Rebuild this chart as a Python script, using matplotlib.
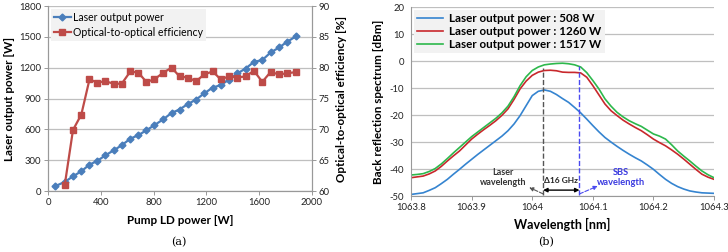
import matplotlib
matplotlib.use("Agg")
import matplotlib.pyplot as plt

# ---- panel (a) data ----
pump_power = [50, 126, 189, 252, 314, 372, 435, 498, 558, 624, 684, 745, 805, 873, 936,
              996, 1057, 1122, 1182, 1248, 1308, 1371, 1434, 1497, 1560, 1623, 1686,
              1751, 1811, 1882]
output_power = [45, 88, 143, 192, 257, 292, 348, 396, 445, 510, 543, 591, 640, 698, 760,
                793, 845, 890, 949, 1007, 1030, 1085, 1144, 1192, 1257, 1274, 1348,
                1397, 1452, 1508]
eff_pump = pump_power[1:]
efficiency = [60.9, 69.9, 72.4, 78.1, 77.6, 77.8, 77.4, 77.4, 79.4, 79.2, 77.7, 78.1,
              79.2, 80.0, 78.6, 78.4, 77.8, 78.9, 79.4, 78.1, 78.6, 78.4, 78.6, 79.5,
              77.7, 79.3, 78.9, 79.1, 79.3]

# ---- panel (b) data ----
wavelength = [1063.80, 1063.81, 1063.82, 1063.83, 1063.84, 1063.85, 1063.86, 1063.87,
              1063.88, 1063.89, 1063.90, 1063.91, 1063.92, 1063.93, 1063.94, 1063.95,
              1063.96, 1063.97, 1063.98, 1063.99, 1064.00, 1064.01, 1064.02, 1064.03,
              1064.04, 1064.05, 1064.06, 1064.07, 1064.08, 1064.09, 1064.10, 1064.11,
              1064.12, 1064.13, 1064.14, 1064.15, 1064.16, 1064.17, 1064.18, 1064.19,
              1064.20, 1064.21, 1064.22, 1064.23, 1064.24, 1064.25, 1064.26, 1064.27,
              1064.28, 1064.29, 1064.30]
spec_508 = [-49.4, -49.1, -48.8, -47.9, -46.9, -45.4, -43.8, -41.9, -40.1, -38.2, -36.4,
            -34.6, -32.9, -31.2, -29.5, -27.8, -25.8, -23.3, -20.2, -16.5, -12.8, -11.2,
            -10.7, -11.2, -12.4, -13.9, -15.3, -17.2, -19.2, -21.5, -23.9, -26.2, -28.3,
            -30.0, -31.6, -33.1, -34.5, -35.8, -37.0, -38.5, -40.1, -42.0, -43.8, -45.3,
            -46.5, -47.4, -48.1, -48.5, -48.8, -48.9, -49.0]
spec_1260 = [-43.2, -42.9, -42.6, -41.8, -40.7, -39.0, -37.0, -35.1, -33.3, -31.1, -28.9,
             -27.1, -25.4, -23.8, -22.1, -20.1, -17.7, -14.2, -10.3, -7.4, -5.3, -4.1,
             -3.5, -3.4, -3.6, -4.1, -4.2, -4.2, -4.4, -6.0, -9.1, -12.5, -15.9, -18.4,
             -20.2, -21.9, -23.3, -24.6, -25.8, -27.3, -28.9, -30.2, -31.4, -32.9, -34.5,
             -36.3, -38.2, -40.1, -41.9, -43.0, -43.8]
spec_1517 = [-42.2, -42.0, -41.7, -40.9, -39.8, -38.1, -36.1, -34.0, -32.0, -30.0, -28.0,
             -26.3, -24.6, -22.9, -21.2, -19.2, -16.7, -13.2, -9.1, -5.8, -3.5, -2.2,
             -1.4, -1.1, -0.9, -0.8, -1.0, -1.4, -2.2, -4.3, -7.2, -10.3, -14.0, -16.7,
             -19.0, -20.7, -22.1, -23.2, -24.2, -25.6, -27.0, -27.8, -28.9, -31.0, -33.3,
             -35.2, -37.0, -38.9, -40.7, -42.1, -43.2]
laser_wl = 1064.018
sbs_wl = 1064.078

plt.rcParams['font.family'] = ['Lato', 'DejaVu Sans']
plt.rcParams['axes.unicode_minus'] = False
fig = plt.figure(figsize=(7.28, 2.52), dpi=100)
tick_fs = 6.8
lab_fs = 8.4
grid_c = '#bfbfbf'
spine_c = '#999999'

# ---------------- (a) ----------------
ax = fig.add_axes([0.066, 0.242, 0.3626, 0.734])
ax2 = ax.twinx()
l1, = ax.plot(pump_power, output_power, color='#4a7ebb', marker='D', markersize=3.5,
              linewidth=1.6, label='Laser output power', zorder=3)
l2, = ax2.plot(eff_pump, efficiency, color='#be4b48', marker='s', markersize=5,
               linewidth=1.6, label='Optical-to-optical efficiency', zorder=3)
ax.set_xlim(0, 2000)
ax.set_ylim(0, 1800)
ax2.set_ylim(60, 90)
ax.set_xticks([0, 400, 800, 1200, 1600, 2000])
ax.set_yticks([0, 300, 600, 900, 1200, 1500, 1800])
ax2.set_yticks([60, 65, 70, 75, 80, 85, 90])
ax.yaxis.grid(True, color=grid_c, linewidth=0.9)
ax.set_axisbelow(True)
for a in (ax, ax2):
    for s in a.spines.values():
        s.set_color(spine_c)
        s.set_linewidth(0.8)
    a.spines['top'].set_visible(False)
    a.tick_params(labelsize=tick_fs, length=3, width=0.7, color=spine_c, pad=2,
                  labelcolor='#222222')
ax.set_xlabel('Pump LD power [W]', fontsize=lab_fs, fontweight='bold', labelpad=6)
ax.set_ylabel('Laser output power [W]', fontsize=lab_fs, fontweight='bold', labelpad=3)
ax2.set_ylabel('Optical-to-optical efficiency [%]', fontsize=lab_fs, fontweight='bold',
               labelpad=4)
leg = ax.legend(handles=[l1, l2], loc='upper left', fontsize=7.6, frameon=True,
                fancybox=False, borderpad=0.3, labelspacing=0.35, handlelength=1.6,
                handletextpad=0.2, borderaxespad=0.25)
leg.get_frame().set_facecolor('#f2f2f2')
leg.get_frame().set_edgecolor('none')
leg.get_frame().set_alpha(1)
leg.set_zorder(5)
fig.text(0.245, 0.025, '(a)', fontsize=8, family='DejaVu Serif', ha='center')

# ---------------- (b) ----------------
bx = fig.add_axes([0.5646, 0.222, 0.4162, 0.75])
bx.plot(wavelength, spec_508, color='#3584d0', linewidth=1.2, label='Laser output power : 508 W')
bx.plot(wavelength, spec_1260, color='#c8282c', linewidth=1.2, label='Laser output power : 1260 W')
bx.plot(wavelength, spec_1517, color='#2db84c', linewidth=1.2, label='Laser output power : 1517 W')
bx.set_xlim(1063.8, 1064.3)
bx.set_ylim(-50, 20)
bx.set_xticks([1063.8, 1063.9, 1064.0, 1064.1, 1064.2, 1064.3])
bx.set_xticklabels(['1063.8', '1063.9', '1064', '1064.1', '1064.2', '1064.3'])
bx.set_yticks([-50, -40, -30, -20, -10, 0, 10, 20])
bx.yaxis.grid(True, color=grid_c, linewidth=0.9)
bx.set_axisbelow(True)
for k, s in bx.spines.items():
    s.set_color(spine_c)
    s.set_linewidth(0.8)
bx.spines['top'].set_visible(False)
bx.spines['right'].set_visible(False)
bx.tick_params(axis='x', labelsize=tick_fs, length=3, width=0.7, color=spine_c, pad=2,
               labelcolor='#222222')
bx.tick_params(axis='y', labelsize=tick_fs, length=0, pad=5, labelcolor='#222222')
bx.set_xlabel('Wavelength [nm]', fontsize=lab_fs + 0.6, fontweight='bold', labelpad=4)
bx.set_ylabel('Back reflection spectrum [dBm]', fontsize=lab_fs, fontweight='bold', labelpad=4)
leg2 = bx.legend(loc='upper left', frameon=True, fancybox=False,
                 borderpad=0.3, labelspacing=0.15, handlelength=2.2, handletextpad=0.5,
                 borderaxespad=0.25, prop={'weight': 'bold', 'size': 8.4})
leg2.get_frame().set_facecolor('#f2f2f2')
leg2.get_frame().set_edgecolor('none')
leg2.get_frame().set_alpha(1)

bx.plot([laser_wl, laser_wl], [-49.6, -2.6], color='#555555', linestyle='--', linewidth=1.0)
bx.plot([sbs_wl, sbs_wl], [-49.6, -1.8], color='#4a4af0', linestyle='--', linewidth=1.0)
bx.annotate('', xy=(sbs_wl, -47.8), xytext=(laser_wl, -47.8),
            arrowprops=dict(arrowstyle='<|-|>', color='black', lw=1.0,
                            mutation_scale=6, shrinkA=0, shrinkB=0))
bx.text((laser_wl + sbs_wl) / 2, -44.3, '\u039416 GHz', fontsize=6, ha='center',
        va='center', color='#222222', fontweight='bold')
bx.annotate('', xy=(1063.995, -46.8), xytext=(laser_wl, -49.2),
            arrowprops=dict(arrowstyle='-|>', color='#555555', lw=0.8, linestyle='--',
                            mutation_scale=6, shrinkA=0, shrinkB=0))
bx.text(1063.952, -43.2, 'Laser\nwavelength', fontsize=6.5, ha='center', va='center',
        color='#333333', linespacing=1.2, fontweight='bold')
bx.annotate('', xy=(1064.108, -46.3), xytext=(sbs_wl, -49.2),
            arrowprops=dict(arrowstyle='-|>', color='#4a4af0', lw=0.8, linestyle='--',
                            mutation_scale=6, shrinkA=0, shrinkB=0))
bx.text(1064.147, -43.2, 'SBS\nwavelength', fontsize=6.7, ha='center', va='center',
        color='#3a3ae0', linespacing=1.15, fontweight='bold')
fig.text(0.75, 0.025, '(b)', fontsize=8, family='DejaVu Serif', ha='center')

fig.savefig('out.png', dpi=100)
